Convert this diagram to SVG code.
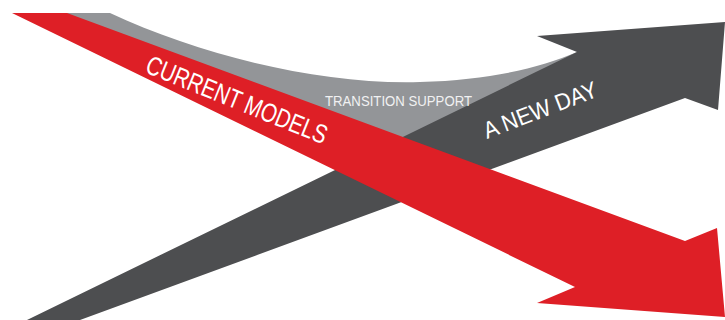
<svg xmlns="http://www.w3.org/2000/svg" width="725" height="320" viewBox="0 0 725 320">
  <style>
    .lbl { font-family: "Liberation Sans", Arial, sans-serif; fill: #ffffff; }
    .red { fill: #DE1F26; }
    .dark { fill: #4D4E50; }
    .gray { fill: #939598; }
  </style>
  <rect width="725" height="320" fill="#ffffff"/>
  <g id="transition-support">
    <path class="gray" d="M60,13 L110,13 C200,55 320,85 420,82 C490,80 540,68 577,52 L592,60 L420,160 L60,30 Z"/>
  </g>
  <g id="a-new-day">
    <path class="dark" d="M27,320 L577,52 L537,36 L725,22 L718,110 L685,98 L80,320 Z"/>
  </g>
  <g id="current-models">
    <path class="red" d="M12,13 L67,13 L685,241 L717,228 L725,317 L537,303 L575,287 Z"/>
  </g>
  <g id="labels">
    <text class="lbl" font-size="26.5" textLength="193" lengthAdjust="spacingAndGlyphs" transform="translate(144,72) rotate(22)">CURRENT MODELS</text>
    <text class="lbl" font-size="15.5" textLength="147" lengthAdjust="spacingAndGlyphs" x="325" y="105.5" style="fill:#F1F1F2">TRANSITION SUPPORT</text>
    <text class="lbl" font-size="23.5" textLength="120" lengthAdjust="spacingAndGlyphs" transform="translate(487,139) rotate(-21)">A NEW DAY</text>
  </g>
</svg>
